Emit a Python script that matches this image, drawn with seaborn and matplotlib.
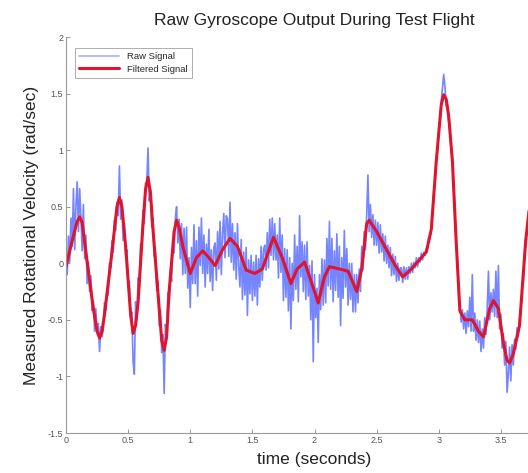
import numpy as np
import pandas as pd
import matplotlib
matplotlib.use("Agg")
import matplotlib.pyplot as plt
import seaborn as sns

# Filtered signal keypoints (time, value)
filt_t = [0.00, 0.05, 0.09, 0.11, 0.13, 0.16, 0.22, 0.25, 0.27, 0.29, 0.31, 0.37, 0.41,
          0.43, 0.45, 0.48, 0.52, 0.54, 0.56, 0.58, 0.62, 0.64, 0.66, 0.68, 0.70, 0.75,
          0.77, 0.79, 0.81, 0.83, 0.87, 0.89, 0.91, 0.94, 1.00, 1.05, 1.10, 1.15,
          1.20, 1.26, 1.32, 1.38, 1.45, 1.52, 1.58, 1.67, 1.74, 1.81, 1.86, 1.92,
          1.97, 2.03, 2.08, 2.12, 2.20, 2.27, 2.34, 2.38, 2.42, 2.44, 2.50, 2.58, 2.65,
          2.71, 2.78, 2.86, 2.90, 2.94, 2.98, 3.02, 3.04, 3.06, 3.08, 3.11, 3.14, 3.17,
          3.21, 3.27, 3.32, 3.36, 3.41, 3.44, 3.48, 3.52, 3.55, 3.57, 3.60, 3.65, 3.70, 3.75]
filt_v = [-0.03, 0.20, 0.37, 0.41, 0.36, 0.10, -0.40, -0.60, -0.66, -0.60, -0.45, 0.10, 0.50,
          0.58, 0.50, 0.15, -0.45, -0.62, -0.55, -0.35, 0.35, 0.65, 0.76, 0.62, 0.30, -0.40,
          -0.68, -0.77, -0.65, -0.25, 0.28, 0.38, 0.32, 0.15, -0.09, 0.05, 0.11, 0.05,
          -0.02, 0.12, 0.22, 0.15, -0.06, -0.09, -0.05, 0.23, 0.05, -0.18, -0.05, 0.01,
          -0.15, -0.35, -0.12, -0.03, -0.05, -0.07, -0.25, -0.05, 0.35, 0.38, 0.28, 0.12, -0.02,
          -0.12, -0.05, 0.05, 0.10, 0.30, 0.90, 1.40, 1.49, 1.45, 1.30, 0.90, 0.20, -0.42,
          -0.50, -0.50, -0.60, -0.65, -0.40, -0.33, -0.40, -0.70, -0.86, -0.88, -0.80, -0.55, 0.20, 0.70]

# Raw gyroscope samples, one every 0.01 s starting at t = 0
raw_v = [
    0.02, -0.10, 0.24, 0.01, 0.40, 0.15, 0.66, 0.12, 0.51, 0.72,
    0.28, 0.66, 0.40, 0.11, 0.52, 0.04, 0.25, -0.18, 0.01, -0.25,
    -0.11, -0.42, -0.34, -0.60, -0.40, -0.61, -0.53, -0.78, -0.56, -0.65,
    -0.58, -0.35, -0.42, -0.22, -0.28, 0.00, -0.04, 0.20, 0.10, 0.38,
    0.29, 0.54, 0.42, 0.86, 0.39, 0.56, 0.20, 0.34, 0.07, 0.12,
    -0.21, -0.16, -0.48, -0.43, -0.87, -0.98, -0.34, -0.50, -0.13, -0.17,
    0.17, 0.13, 0.47, 0.35, 0.71, 0.71, 1.02, 0.55, 0.65, 0.32,
    0.40, 0.06, 0.10, -0.24, -0.16, -0.55, -0.41, -0.79, -0.63, -1.15,
    -0.54, -0.66, -0.26, -0.35, -0.06, -0.16, 0.17, 0.09, 0.40, 0.50,
    0.18, 0.39, 0.04, 0.35, -0.10, 0.31, -0.09, 0.32, -0.22, 0.05,
    -0.39, 0.14, -0.18, 0.34, -0.18, 0.20, -0.29, 0.32, -0.02, 0.40,
    -0.09, 0.25, -0.21, 0.17, -0.09, 0.30, -0.16, 0.12, -0.24, 0.14,
    0.18, -0.15, 0.28, -0.05, 0.37, -0.10, 0.27, 0.44, 0.05, 0.42,
    0.39, 0.06, 0.54, 0.01, 0.35, -0.06, 0.27, -0.14, 0.35, -0.03,
    -0.21, 0.21, -0.32, 0.10, -0.28, 0.14, -0.46, 0.03, -0.27, 0.07,
    -0.33, 0.01, -0.29, 0.07, -0.37, 0.04, -0.21, 0.15, -0.15, 0.13,
    0.16, -0.06, 0.27, -0.04, 0.39, 0.07, 0.40, 0.03, 0.35, 0.03,
    0.25, -0.13, 0.40, -0.08, 0.25, -0.33, 0.13, -0.30, 0.12, -0.42,
    0.05, -0.58, 0.00, -0.33, 0.25, -0.23, 0.15, -0.34, 0.42, -0.12,
    0.19, -0.25, 0.16, -0.32, 0.19, -0.29, -0.02, -0.50, 0.02, -0.87,
    -0.10, -0.48, -0.22, -0.70, -0.10, -0.41, 0.04, -0.37, 0.03, -0.35,
    0.22, -0.20, 0.37, -0.23, 0.22, -0.34, 0.11, -0.24, 0.26, -0.30,
    0.15, -0.55, 0.05, -0.31, 0.29, -0.21, 0.13, -0.37, 0.00, -0.32,
    0.00, -0.43, -0.10, -0.43, -0.10, -0.35, -0.05, -0.25, 0.15, -0.06,
    0.28, 0.12, 0.43, 0.78, 0.28, 0.52, 0.23, 0.43, 0.16, 0.38,
    0.16, 0.36, 0.09, 0.34, 0.10, 0.26, 0.02, 0.24, 0.00, 0.16,
    -0.04, 0.14, -0.11, 0.08, -0.10, 0.06, -0.16, 0.00, -0.15, -0.04,
    -0.04, -0.17, -0.03, -0.14, -0.04, -0.14, -0.03, -0.09, 0.00, -0.08,
    0.01, -0.04, 0.05, -0.03, 0.05, 0.01, 0.09, 0.03, 0.10, 0.07,
    0.13, 0.13, 0.23, 0.22, 0.32, 0.42, 0.63, 0.73, 0.93, 1.01,
    1.18, 1.25, 1.44, 1.55, 1.67, 1.56, 1.39, 1.40, 1.26, 1.20,
    1.00, 0.93, 0.65, 0.46, 0.17, 0.03, -0.26, -0.36, -0.52, -0.41,
    -0.58, -0.44, -0.62, -0.42, -0.56, -0.30, -0.60, -0.10, -0.60, -0.44,
    -0.68, -0.50, -0.70, -0.51, -0.78, -0.58, -0.75, -0.48, -0.63, -0.40,
    -0.07, -0.50, -0.26, -0.43, -0.23, -0.47, -0.07, -0.48, -0.02, -0.58,
    -0.45, -0.75, -0.62, -0.90, -0.69, -1.14, -0.98, -0.74, -1.04, -0.72,
    -0.90, -0.67, -0.76, -0.57, -0.65, -0.49, -0.45, -0.22, -0.17, 0.08,
    0.22, 0.26, 0.42, 0.45, 0.62, 0.66,
]
raw_dt = 0.01

x_ticks = [0, 0.5, 1, 1.5, 2, 2.5, 3, 3.5]
y_ticks = [-1.5, -1, -0.5, 0, 0.5, 1, 1.5, 2]
x_tick_labels = ["0", "0.5", "1", "1.5", "2", "2.5", "3", "3.5"]
y_tick_labels = ["-1.5", "-1", "-0.5", "0", "0.5", "1", "1.5", "2"]

raw_df = pd.DataFrame({"t": np.arange(len(raw_v)) * raw_dt, "v": raw_v})
filt_df = pd.DataFrame({"t": filt_t, "v": filt_v})

sns.set_theme(style="white")
plt.rcParams["font.family"] = ["Liberation Sans", "DejaVu Sans"]

fig = plt.figure(figsize=(5.28, 4.73), dpi=100)
ax = fig.add_axes([66 / 528, 1 - 433 / 473, 497 / 528, 396 / 473])

sns.lineplot(data=raw_df, x="t", y="v", ax=ax, color="#3a52ff", alpha=0.7,
             linewidth=1.2, label="Raw Signal", estimator=None, sort=False)
sns.lineplot(data=filt_df, x="t", y="v", ax=ax, color="#e0142c",
             linewidth=2.2, label="Filtered Signal", estimator=None, sort=False)

ax.set_xlim(0, 4)
ax.set_ylim(-1.5, 2)
ax.set_xticks(x_ticks)
ax.set_xticklabels(x_tick_labels)
ax.set_yticks(y_ticks)
ax.set_yticklabels(y_tick_labels)
ax.tick_params(axis="both", direction="in", length=3, width=0.6, colors="#888888",
               labelsize=6.5, labelcolor="#555555", pad=2)
ax.tick_params(axis="both", which="both", bottom=True, left=True)
for side in ["top", "right"]:
    ax.spines[side].set_visible(False)
for side in ["left", "bottom"]:
    ax.spines[side].set_color("#999999")
    ax.spines[side].set_linewidth(0.8)

ax.set_title("Raw Gyroscope Output During Test Flight", fontsize=12.5, color="#222222", pad=9)
ax.set_xlabel("time (seconds)", fontsize=12.5, color="#222222", labelpad=5)
ax.set_ylabel("Measured Rotational Velocity (rad/sec)", fontsize=12.5, color="#222222", labelpad=6)

leg = ax.legend(loc="upper left", bbox_to_anchor=(0.008, 0.985), fontsize=6.8, frameon=True,
                fancybox=False, edgecolor="#888888", handlelength=4.2, borderpad=0.5,
                labelspacing=0.35)
leg.get_frame().set_linewidth(0.6)
leg.get_lines()[0].set_alpha(0.45)

fig.savefig("out.png", dpi=100)
